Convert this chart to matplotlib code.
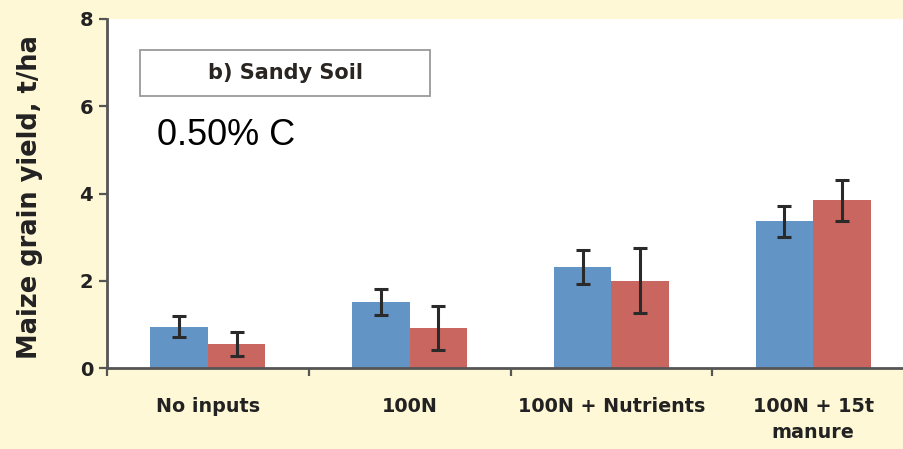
import matplotlib
matplotlib.use("Agg")
import matplotlib.pyplot as plt
from matplotlib.patches import Rectangle
import numpy as np

categories = ["No inputs", "100N", "100N + Nutrients", "100N + 15t\nmanure"]
blue_vals = [0.95, 1.51, 2.32, 3.36]
blue_err = [0.25, 0.30, 0.39, 0.36]
red_vals = [0.55, 0.92, 2.00, 3.85]
red_err = [0.28, 0.50, 0.75, 0.47]
y_ticks = [0, 2, 4, 6, 8]

BG = "#FFF8D6"
BLUE = "#6394C6"
RED = "#C96660"
DARK = "#222222"

W, H = 904, 449
fig = plt.figure(figsize=(W / 100, H / 100), dpi=100, facecolor=BG)
ax = fig.add_axes([107 / W, (H - 368) / H, 1 - 107 / W, (368 - 19) / H])
ax.set_facecolor("white")

x = np.arange(len(categories))
bw = 0.285
ekw = dict(elinewidth=2.2, capthick=2.2, ecolor="#2a2a2a")
ax.bar(x - bw / 2, blue_vals, bw, color=BLUE, yerr=blue_err, capsize=5, error_kw=ekw, zorder=2)
ax.bar(x + bw / 2, red_vals, bw, color=RED, yerr=red_err, capsize=5, error_kw=ekw, zorder=2)

ax.set_xlim(-0.5, 3.45)
ax.set_ylim(0, 8)
ax.set_yticks(y_ticks)
ax.set_yticklabels([str(t) for t in y_ticks], fontsize=14, fontweight="bold", color=DARK)

ax.set_xticks(x)
ax.set_xticklabels(categories, fontsize=13.8, fontweight="bold", color=DARK, linespacing=1.45)
ax.tick_params(axis="x", which="major", length=0, pad=21)
ax.set_xticks([-0.5, 0.5, 1.5, 2.5], minor=True)
ax.tick_params(axis="x", which="minor", length=6, width=1.6, color="#555555", direction="out")
ax.tick_params(axis="y", length=6, width=1.6, color="#555555", pad=4)

for side in ["top", "right"]:
    ax.spines[side].set_visible(False)
for side in ["left", "bottom"]:
    ax.spines[side].set_linewidth(2)
    ax.spines[side].set_color("#555555")

ax.set_ylabel("Maize grain yield, t/ha", fontsize=18.5, fontweight="bold", color=DARK)
ax.yaxis.set_label_coords(-0.097, 0.49)
ax.yaxis.label.set_va("center")

# panel title box
fig.add_artist(Rectangle((140 / W, 1 - 96 / H), 290 / W, 46 / H, transform=fig.transFigure,
                         facecolor="white", edgecolor="#9a9a9a", linewidth=1.3, zorder=5))
fig.text(285 / W, 1 - 73 / H, "b) Sandy Soil", ha="center", va="center", fontsize=15,
         fontweight="bold", color="#2a2520", zorder=6)
fig.text(157 / W, 1 - 145 / H, "0.50% C", ha="left", va="baseline", fontsize=26,
         family="Liberation Sans", color="black", zorder=6)

fig.savefig("out.png", dpi=100, facecolor=BG)
